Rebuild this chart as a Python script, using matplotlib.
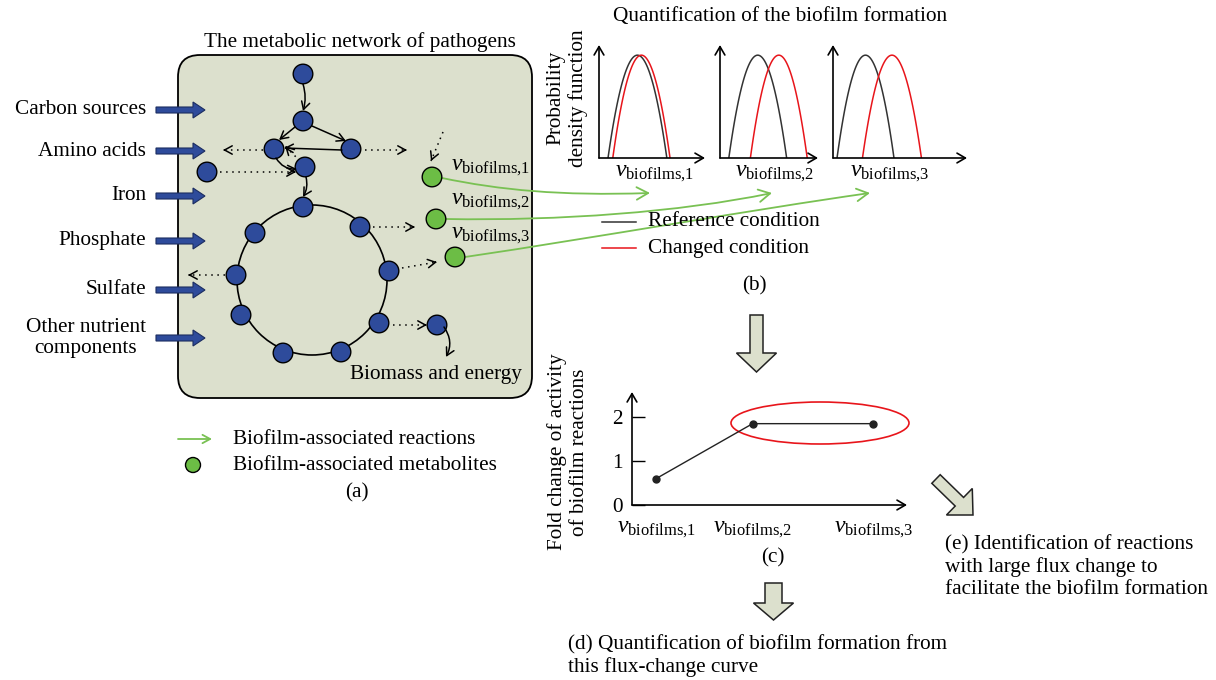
import matplotlib.pyplot as plt
import numpy as np
from matplotlib.patches import Circle, Ellipse, FancyArrow, FancyArrowPatch, FancyBboxPatch
from matplotlib.path import Path

plt.rcParams['font.family'] = 'Liberation Serif'
plt.rcParams['mathtext.fontset'] = 'custom'
plt.rcParams['mathtext.rm'] = 'Liberation Serif'
plt.rcParams['mathtext.it'] = 'Liberation Serif:italic'

# nutrients taken up by the pathogen
nutrients = ['Carbon sources', 'Amino acids', 'Iron', 'Phosphate', 'Sulfate',
             'Other nutrient\ncomponents']
# biofilm-associated reactions
reactions = [r'$\nu_{\mathrm{biofilms{,}1}}$', r'$\nu_{\mathrm{biofilms{,}2}}$',
             r'$\nu_{\mathrm{biofilms{,}3}}$']
# flux distributions: where each curve starts / ends along the flux axis
ref_lo = [0.085, 0.09, 0.03]
ref_hi = [0.64, 0.68, 0.455]
chg_lo = [0.13, 0.31, 0.22]
chg_hi = [0.67, 0.89, 0.66]
pdf_peak = 0.91
# fold change of activity for each reaction
fold_change = [0.6, 1.85, 1.85]
fold_ticks = [0, 1, 2]

W, H = 1216, 680
FS = 15.3
NU = 17
BLUE = '#2e4b9b'
GREEN = '#6cbd45'
PALE = '#dce0cd'
LINE_GREEN = '#79c153'

fig = plt.figure(figsize=(12.16, 6.8), dpi=100)
ax = fig.add_axes([0, 0, 1, 1])
ax.set_xlim(0, W)
ax.set_ylim(H, 0)
ax.axis('off')


def px_axes(x0, y0, x1, y1):
    a = fig.add_axes([x0 / W, 1 - y1 / H, (x1 - x0) / W, (y1 - y0) / H])
    a.patch.set_visible(False)
    return a


def arrow(p0, p1, rad=0.0, color='black', lw=1.1):
    ax.annotate('', xy=p1, xytext=p0,
                arrowprops=dict(arrowstyle='->,head_length=0.55,head_width=0.3',
                                lw=lw, color=color, shrinkA=0, shrinkB=0,
                                connectionstyle='arc3,rad=%s' % rad))


def dotted_arrow(p0, p1):
    ax.plot([p0[0], p1[0]], [p0[1], p1[1]], ls=(0, (1, 3)), color='black', lw=1.1)
    d = np.array(p1, float) - np.array(p0, float)
    d = d / np.hypot(*d)
    arrow(tuple(np.array(p1) - 2 * d), p1)


# ---- (a) metabolic network ----
ax.text(360, 42, 'The metabolic network of pathogens', fontsize=FS, ha='center', va='center')
ax.add_patch(FancyBboxPatch((178, 55), 354, 343, boxstyle='round,pad=0,rounding_size=22',
                            fc=PALE, ec='black', lw=1.3, zorder=0))

input_y = [110, 151, 196, 241, 290, 338]
for name, y in zip(nutrients, input_y):
    ax.text(146, y, name, fontsize=FS, ha='right', va='center', multialignment='center',
            linespacing=1.1)
    ax.add_patch(FancyArrow(156, y, 49, 0, width=6, head_width=16, head_length=12,
                            length_includes_head=True, fc=BLUE, ec='#1c2d60', lw=0.8, zorder=2))

top_nodes = [(303, 74), (303, 121), (274, 149), (351, 149), (305, 167), (207, 172)]
ring_nodes = [(303, 207), (360, 227), (389, 271), (379, 323), (341, 352), (283, 353),
              (241, 315), (236, 275), (255, 233)]
green_nodes = [(432, 177), (436, 219), (455, 257)]

ax.add_patch(Circle((312, 280), 75, fill=False, ec='black', lw=1.2, zorder=1))
for x, y in top_nodes + ring_nodes + [(437, 325)]:
    ax.add_patch(Circle((x, y), 9.8, fc=BLUE, ec='black', lw=1.0, zorder=3))
for x, y in green_nodes:
    ax.add_patch(Circle((x, y), 9.8, fc=GREEN, ec='black', lw=1.0, zorder=3))

arrow((303, 84), (303, 111), rad=-0.15)
arrow((295, 127), (279, 140))
arrow((312, 126), (346, 141))
arrow((342, 150), (284, 148))
arrow((276, 158), (297, 169), rad=0.3)
arrow((306, 177), (303, 197), rad=-0.2)
arrow((444, 327), (446, 357), rad=-0.3)
dotted_arrow((300, 161), (285, 146))

for p0, p1 in [((263, 150), (223, 150)), ((365, 150), (407, 150)), ((220, 172), (296, 172)),
               ((443, 132), (431, 161)), ((373, 227), (415, 227)), ((402, 268), (437, 262)),
               ((225, 275), (188, 275)), ((393, 325), (427, 325))]:
    dotted_arrow(p0, p1)

for lab, y in zip(reactions, [167, 202, 235]):
    ax.text(451, y, lab, fontsize=NU, ha='left', va='center')

ax.text(522, 374, 'Biomass and energy', fontsize=FS, ha='right', va='center')

# green reaction links towards the distributions
links = [[(442, 178), (500, 190), (560, 196), (650, 193)],
         [(446, 219), (560, 221), (680, 212), (772, 193)],
         [(465, 257), (600, 237), (750, 210), (870, 193)]]
for verts in links:
    ax.add_patch(FancyArrowPatch(path=Path(verts, [Path.MOVETO, Path.CURVE4, Path.CURVE4, Path.CURVE4]),
                                 arrowstyle='->,head_length=0.55,head_width=0.3', mutation_scale=15,
                                 color=LINE_GREEN, lw=1.3, zorder=2))

# legend of (a)
arrow((178, 439), (212, 439), color=LINE_GREEN, lw=1.3)
ax.text(233, 439, 'Biofilm-associated reactions', fontsize=FS, va='center')
ax.add_patch(Circle((193, 465), 7.5, fc=GREEN, ec='black', lw=1.0))
ax.text(233, 465, 'Biofilm-associated metabolites', fontsize=FS, va='center')
ax.text(357, 493, '(a)', fontsize=FS, ha='center', va='center')

# ---- (b) flux distributions ----
ax.text(780, 16, 'Quantification of the biofilm formation', fontsize=FS, ha='center', va='center')
ax.text(567, 98, 'Probability\ndensity function', fontsize=FS, ha='center', va='center',
        rotation=90, linespacing=1.2)

panel_x = [(599, 705), (720, 818), (833, 967)]
label_x = [655, 775, 890]
for i, (x0, x1) in enumerate(panel_x):
    a = px_axes(x0, 45, x1, 158)
    a.set_xlim(0, 1)
    a.set_ylim(0, 1)
    a.axis('off')
    for lo, hi, col in [(ref_lo[i], ref_hi[i], '#333333'), (chg_lo[i], chg_hi[i], '#e8151b')]:
        c, hw = (lo + hi) / 2, (hi - lo) / 2
        xs = np.linspace(lo, hi, 120)
        a.plot(xs, pdf_peak * (1 - ((xs - c) / hw) ** 2), color=col, lw=1.1)
    for end in [(1, 0), (0, 1)]:
        a.annotate('', xy=end, xytext=(0, 0), xycoords='axes fraction',
                   arrowprops=dict(arrowstyle='->,head_length=0.6,head_width=0.35',
                                   lw=1.2, color='black', shrinkA=0, shrinkB=0),
                   annotation_clip=False)
    ax.text(label_x[i], 173, reactions[i], fontsize=NU, ha='center', va='center')

ax.plot([602, 636], [222, 222], color='#333333', lw=1.1)
ax.text(648, 222, 'Reference condition', fontsize=FS, va='center')
ax.plot([602, 636], [248, 248], color='#e8151b', lw=1.1)
ax.text(648, 248, 'Changed condition', fontsize=FS, va='center')
ax.text(754, 286, '(b)', fontsize=FS, ha='center', va='center')

ax.add_patch(FancyArrow(756.5, 315, 0, 57, width=13, head_width=40, head_length=19,
                        length_includes_head=True, fc=PALE, ec='#222222', lw=1.1))

# ---- (c) fold change ----
ca = px_axes(632, 392, 907, 505)
xpos = [0.25, 1.25, 2.5]
ca.set_xlim(0, 2.85)
ca.set_ylim(0, 2.57)
ca.plot(xpos, fold_change, color='#222222', lw=1.0, marker='o', ms=5, mfc='#222222')
for s in ca.spines.values():
    s.set_visible(False)
ca.set_yticks(fold_ticks, [str(t) for t in fold_ticks], fontsize=FS)
ca.tick_params(axis='y', direction='in', length=9, width=1, pad=7)
ca.set_xticks(xpos, reactions, fontsize=NU)
ca.tick_params(axis='x', length=0, pad=10)
for end in [(1, 0), (0, 1)]:
    ca.annotate('', xy=end, xytext=(0, 0), xycoords='axes fraction',
                arrowprops=dict(arrowstyle='->,head_length=0.6,head_width=0.35',
                                lw=1.2, color='black', shrinkA=0, shrinkB=0),
                annotation_clip=False)
ax.add_patch(Ellipse((820, 423), 178, 42, fill=False, ec='#e8151b', lw=1.2))
ax.text(568, 452, 'Fold change of activity\nof biofilm reactions', fontsize=FS,
        ha='center', va='center', rotation=90, linespacing=1.2)
ax.text(773, 558, '(c)', fontsize=FS, ha='center', va='center')

# ---- (d) and (e) ----
ax.add_patch(FancyArrow(773.5, 583, 0, 37, width=17, head_width=40, head_length=17,
                        length_includes_head=True, fc=PALE, ec='#222222', lw=1.1))
ax.text(568, 656, '(d) Quantification of biofilm formation from\nthis flux-change curve',
        fontsize=FS, ha='left', va='center', linespacing=1.2)

ax.add_patch(FancyArrow(936, 479, 37, 36, width=12, head_width=37, head_length=19,
                        length_includes_head=True, fc=PALE, ec='#222222', lw=1.1))
ax.text(945, 567, '(e) Identification of reactions\nwith large flux change to\n'
        'facilitate the biofilm formation', fontsize=FS, ha='left', va='center',
        linespacing=1.2)

fig.savefig('out.png', dpi=100)
